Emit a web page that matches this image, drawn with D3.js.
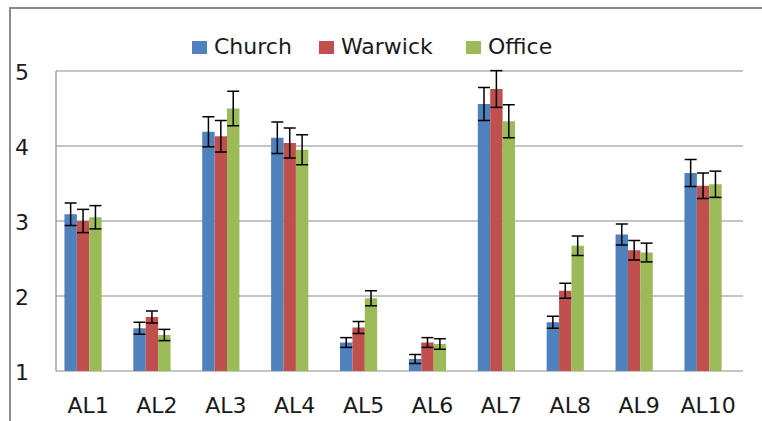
<!DOCTYPE html>
<html><head><meta charset="utf-8">
<script src="https://cdn.jsdelivr.net/npm/d3@7"></script>
<style>body{margin:0;background:#fff}svg{display:block;font-family:"DejaVu Sans",sans-serif}</style>
</head><body><svg id="c" width="762" height="421"></svg>
<script>
const categories = ["AL1","AL2","AL3","AL4","AL5","AL6","AL7","AL8","AL9","AL10"];
const seriesNames = ["Church","Warwick","Office"];
const church  = [3.09,1.57,4.19,4.11,1.38,1.16,4.56,1.65,2.82,3.64];
const warwick = [3.00,1.72,4.13,4.04,1.58,1.38,4.76,2.07,2.61,3.47];
const office  = [3.05,1.48,4.50,3.95,1.97,1.36,4.33,2.67,2.58,3.49];
const churchErr  = [0.15,0.08,0.20,0.21,0.065,0.06,0.22,0.08,0.14,0.18];
const warwickErr = [0.155,0.08,0.21,0.20,0.08,0.065,0.245,0.10,0.13,0.17];
const officeErr  = [0.155,0.075,0.23,0.20,0.10,0.07,0.22,0.13,0.125,0.175];
const yTicks = [1,2,3,4,5];
const colors = ["#4F81BD","#C0504D","#9BBB59"];

const values = [church, warwick, office];
const errs = [churchErr, warwickErr, officeErr];
const svg = d3.select("#c");

// outer border
svg.append("line").attr("x1",10).attr("x2",762).attr("y1",8).attr("y2",8).attr("stroke","#8a8a8a").attr("stroke-width",2);
svg.append("line").attr("x1",10).attr("x2",10).attr("y1",7).attr("y2",421).attr("stroke","#8a8a8a").attr("stroke-width",2);

const y = d3.scaleLinear().domain([1,5]).range([371,71]);
const x0 = d3.scaleBand().domain(categories).range([48.6,737.5]).paddingInner(0.46).paddingOuter(0.23);
const x1 = d3.scaleBand().domain(seriesNames).range([0,x0.bandwidth()]);

// gridlines
svg.append("g").selectAll("line").data(yTicks).join("line")
  .attr("x1",56).attr("x2",743).attr("y1",d=>y(d)).attr("y2",d=>y(d))
  .attr("stroke","#8c8c8c").attr("stroke-width",1.2);
svg.append("line").attr("x1",56).attr("x2",56).attr("y1",y(5)).attr("y2",y(1)).attr("stroke","#8c8c8c").attr("stroke-width",1.2);

// y labels
svg.append("g").selectAll("text").data(yTicks).join("text")
  .attr("x",29).attr("y",d=>y(d)+9).attr("text-anchor","end")
  .attr("font-size",22).attr("fill","#1a1a1a").text(d=>d);

// bars
const groups = svg.append("g").selectAll("g").data(categories).join("g")
  .attr("transform",d=>`translate(${x0(d)},0)`);
seriesNames.forEach((s,si)=>{
  groups.append("rect")
    .attr("x",x1(s)).attr("width",x1.bandwidth())
    .attr("y",(d,i)=>y(values[si][i])).attr("height",(d,i)=>y(1)-y(values[si][i]))
    .attr("fill",colors[si]);
});
// error bars
seriesNames.forEach((s,si)=>{
  const cx = x1(s)+x1.bandwidth()/2;
  groups.each(function(d,i){
    const g = d3.select(this);
    const v = values[si][i], e = errs[si][i];
    const t = y(v+e), b = y(v-e);
    g.append("line").attr("x1",cx).attr("x2",cx).attr("y1",t).attr("y2",b).attr("stroke","#000").attr("stroke-width",1.5);
    [t,b].forEach(yy=>g.append("line").attr("x1",cx-6).attr("x2",cx+6).attr("y1",yy).attr("y2",yy).attr("stroke","#000").attr("stroke-width",1.5));
  });
});

// x labels
svg.append("g").selectAll("text").data(categories).join("text")
  .attr("x",d=>x0(d)+x0.bandwidth()/2+5).attr("y",413).attr("text-anchor","middle")
  .attr("font-size",22).attr("fill","#1a1a1a").text(d=>d);

// legend
const legX = [192,319,466];
const leg = svg.append("g").selectAll("g").data(seriesNames).join("g")
  .attr("transform",(d,i)=>`translate(${legX[i]},0)`);
leg.append("rect").attr("x",0).attr("y",41).attr("width",15).attr("height",13).attr("fill",(d,i)=>colors[i]);
leg.append("text").attr("x",22).attr("y",54).attr("font-size",22).attr("fill","#1a1a1a").text(d=>d);
</script></body></html>
